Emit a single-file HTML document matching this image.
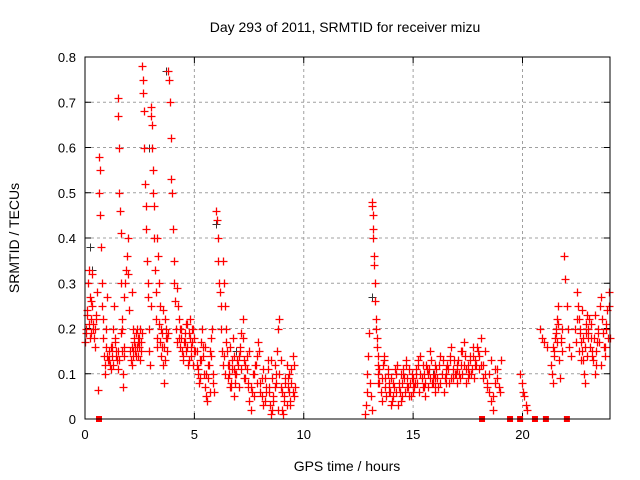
<!DOCTYPE html>
<html><head><meta charset="utf-8"><style>
body{margin:0;background:#fff}
svg{display:block;font-family:"Liberation Sans",sans-serif}
</style></head><body>
<svg id="chart" width="640" height="480">
<text x="345" y="32" font-size="14" text-anchor="middle">Day 293 of 2011, SRMTID for receiver mizu</text>
<text x="347" y="471" font-size="14" text-anchor="middle">GPS time / hours</text>
<text transform="translate(19,238) rotate(-90)" font-size="14" text-anchor="middle">SRMTID / TECUs</text>
<g id="grid"></g>
<g id="axes"></g>
<g id="marks"></g>
<rect x="85" y="57" width="525" height="362" fill="none" stroke="#000" stroke-width="1"/>
</svg>
<script>
const xTicks=[0,5,10,15,20];
const yTicks=[0,0.1,0.2,0.3,0.4,0.5,0.6,0.7,0.8];
const yTickLabels=["0","0.1","0.2","0.3","0.4","0.5","0.6","0.7","0.8"];
// red series in segments (start hour, end hour, values sampled across segment)
const segStart=[0.0,0.6,1.0,1.5,1.8,2.2,2.6,3.0,3.3,3.8,4.2,5.0,5.5,6.0,6.3,6.8,7.5,8.5,9.0,12.8,13.1,13.4,14.0,15.0,16.0,17.0,18.0,19.9,20.8,21.3,21.9,22.5,23.0];
const segEnd=[0.55,1.0,1.5,1.8,2.2,2.6,3.0,3.3,3.8,4.2,5.0,5.5,5.9,6.3,6.8,7.5,8.5,9.0,9.6,13.1,13.4,14.0,15.0,16.0,17.0,18.0,19.0,20.2,21.1,21.8,22.2,23.0,24.0];
const segValues=[
[0.17,0.2,0.24,0.3,0.33,0.27,0.22,0.19,0.25,0.21,0.18,0.2,0.23,0.28],
[0.065,0.58,0.5,0.55,0.45,0.38,0.3,0.25,0.22,0.18,0.14,0.12,0.1,0.16,0.2,0.27],
[0.14,0.13,0.15,0.12,0.11,0.16,0.2,0.25,0.18,0.14,0.13,0.15],
[0.71,0.67,0.6,0.5,0.46,0.41,0.3,0.2,0.15,0.1,0.07,0.14,0.16],
[0.27,0.3,0.33,0.36,0.4,0.32,0.24,0.15,0.13,0.12,0.28,0.2],
[0.15,0.17,0.18,0.16,0.19,0.14,0.2,0.17,0.16,0.18,0.13,0.15,0.17,0.19],
[0.78,0.75,0.72,0.68,0.6,0.52,0.47,0.42,0.35,0.3,0.27,0.2,0.15,0.12,0.25],
[0.69,0.67,0.65,0.6,0.55,0.5,0.47,0.4,0.33,0.28,0.22,0.18,0.16],
[0.4,0.36,0.3,0.25,0.2,0.16,0.12,0.08,0.22,0.18,0.15,0.19],
[0.77,0.75,0.7,0.62,0.53,0.5,0.42,0.35,0.3,0.26,0.2,0.17],
[0.29,0.25,0.22,0.2,0.18,0.15,0.13,0.17,0.21,0.16,0.12,0.19,0.22,0.14,0.17,0.2,0.15],
[0.18,0.15,0.12,0.1,0.08,0.13,0.17,0.2,0.14,0.1,0.16],
[0.07,0.05,0.04,0.09,0.12,0.15,0.18,0.2,0.1,0.06],
[0.46,0.44,0.4,0.35,0.3,0.28,0.25,0.2,0.15,0.12],
[0.35,0.3,0.25,0.2,0.15,0.12,0.1,0.07,0.08,0.13,0.18,0.11],
[0.05,0.08,0.1,0.12,0.14,0.16,0.19,0.22,0.13,0.09,0.11,0.07,0.15],
[0.04,0.02,0.06,0.1,0.12,0.14,0.17,0.08,0.05,0.03,0.09,0.06,0.11,0.07,0.13],
[0.01,0.02,0.04,0.07,0.1,0.15,0.2,0.22,0.13,0.06],
[0.02,0.01,0.04,0.08,0.12,0.09,0.06,0.03,0.11,0.14,0.05,0.07],
[0.01,0.03,0.06,0.1,0.14,0.19,0.08,0.05,0.02],
[0.48,0.47,0.45,0.42,0.4,0.36,0.34,0.3,0.26,0.22,0.2,0.18,0.16,0.14,0.12],
[0.1,0.08,0.06,0.04,0.12,0.14,0.09,0.05,0.11,0.07,0.06,0.09],
[0.03,0.05,0.07,0.1,0.12,0.08,0.06,0.04,0.11,0.09,0.13,0.07,0.05,0.08,0.1,0.06],
[0.06,0.08,0.1,0.12,0.14,0.09,0.07,0.05,0.11,0.1,0.15,0.08,0.09,0.12],
[0.07,0.09,0.12,0.14,0.1,0.06,0.08,0.11,0.13,0.16,0.09,0.1,0.12],
[0.08,0.1,0.12,0.15,0.17,0.11,0.09,0.13,0.1,0.14,0.12,0.16,0.11],
[0.14,0.18,0.12,0.1,0.08,0.06,0.04,0.02,0.11,0.09,0.07,0.13],
[0.1,0.08,0.06,0.05,0.03,0.02],
[0.2,0.18,0.17,0.16],
[0.12,0.1,0.08,0.15,0.18,0.2,0.22,0.25,0.13,0.09,0.17,0.2],
[0.36,0.31,0.25,0.2,0.16,0.14],
[0.28,0.25,0.22,0.2,0.17,0.15,0.13,0.1,0.08,0.19,0.23,0.18],
[0.2,0.22,0.18,0.15,0.13,0.1,0.12,0.17,0.19,0.25,0.27,0.22,0.16,0.14,0.2,0.24,0.28,0.18]
];
// additional readings from the dense regions
const extraStart=[0.05,1.1,2.15,3.4,4.3,5.1,6.35,6.9,7.6,8.4,9.1,13.4,13.9,14.5,15.0,15.5,16.0,16.5,17.0,17.5,18.1,21.4,22.4,23.0];
const extraEnd=[0.5,1.7,2.55,3.75,4.95,5.85,6.85,7.45,8.35,8.95,9.55,13.9,14.5,15.0,15.5,16.0,16.5,17.0,17.5,17.95,18.95,21.8,22.95,23.95];
const extraValues=[
[0.19,0.23,0.21,0.18,0.26,0.32,0.2,0.16,0.22],
[0.13,0.16,0.14,0.12,0.17,0.15,0.11,0.13,0.19,0.22],
[0.16,0.14,0.18,0.17,0.15,0.19,0.16,0.14,0.18,0.17,0.2,0.15],
[0.21,0.17,0.14,0.19,0.24,0.16,0.13,0.2,0.18],
[0.18,0.16,0.2,0.14,0.17,0.19,0.15,0.21,0.13,0.18,0.16,0.2,0.12],
[0.15,0.11,0.09,0.13,0.16,0.07,0.1,0.12,0.06,0.14,0.08],
[0.14,0.1,0.17,0.09,0.12,0.16,0.07,0.11,0.14,0.1],
[0.1,0.13,0.07,0.15,0.11,0.18,0.09,0.12,0.14,0.08],
[0.07,0.1,0.05,0.12,0.08,0.15,0.06,0.09,0.11,0.04,0.07,0.13],
[0.06,0.03,0.09,0.05,0.12,0.08,0.02,0.1,0.07],
[0.05,0.09,0.03,0.07,0.1,0.04,0.08,0.06,0.12],
[0.08,0.11,0.06,0.09,0.13,0.07,0.05,0.1,0.08],
[0.06,0.09,0.04,0.08,0.11,0.06,0.03,0.07,0.1,0.05],
[0.08,0.1,0.06,0.12,0.09,0.07,0.11,0.05,0.09,0.08],
[0.09,0.07,0.11,0.08,0.13,0.06,0.1,0.09,0.12,0.07],
[0.1,0.08,0.12,0.07,0.11,0.09,0.13,0.08,0.1,0.06],
[0.09,0.11,0.07,0.12,0.08,0.1,0.13,0.09,0.11],
[0.1,0.12,0.08,0.14,0.09,0.11,0.13,0.1,0.12],
[0.11,0.13,0.09,0.15,0.1,0.12,0.14,0.08,0.11],
[0.12,0.1,0.14,0.11,0.16,0.09,0.13,0.12,0.15],
[0.12,0.09,0.15,0.07,0.1,0.13,0.05,0.08,0.11,0.06],
[0.16,0.14,0.19,0.17,0.21,0.13,0.18,0.15],
[0.2,0.17,0.22,0.15,0.19,0.13,0.24,0.18,0.16,0.21,0.14],
[0.19,0.16,0.21,0.14,0.18,0.23,0.15,0.2,0.17,0.12,0.22,0.19,0.16,0.21,0.18,0.25]
];
const grayHours=[0.3,0.4,3.0,3.8,6.1,13.2,22.6,23.2,7.0,16.0];
const graySrmtid=[0.38,0.33,0.6,0.77,0.43,0.27,0.28,0.21,0.15,0.1];
const gapHours=[0.64,18.15,19.43,19.89,20.57,21.07,22.03];

const NS='http://www.w3.org/2000/svg';
const X0=85,X1=610,Y0=419,Y1=57;
function xs(h){return X0+(X1-X0)*h/24;}
function ys(v){return Y0-(Y0-Y1)*v/0.8;}
const grid=document.getElementById('grid'),axes=document.getElementById('axes'),marks=document.getElementById('marks');
function mk(tag,attrs,parent){const e=document.createElementNS(NS,tag);for(const k in attrs)e.setAttribute(k,attrs[k]);parent.appendChild(e);return e;}
xTicks.forEach(t=>{
  const x=xs(t);
  if(t>0){const g=mk('line',{x1:x,x2:x,y1:Y1,y2:Y0,stroke:'#a0a0a0','stroke-dasharray':'3,3'},grid);
  
  }
  mk('line',{x1:x,x2:x,y1:Y0,y2:Y0-6,stroke:'#000'},axes);
  mk('line',{x1:x,x2:x,y1:Y1,y2:Y1+6,stroke:'#000'},axes);
  const l=mk('text',{x:x,y:Y0+20,'font-size':13,'text-anchor':'middle'},axes);l.textContent=t;
  
  
});
yTicks.forEach((t,i)=>{
  const y=ys(t);
  if(i>0&&i<yTicks.length-1){const g=mk('line',{x1:X0,x2:X1,y1:y,y2:y,stroke:'#a0a0a0','stroke-dasharray':'3,3'},grid);
  
  }
  mk('line',{x1:X0,x2:X0+6,y1:y,y2:y,stroke:'#000'},axes);
  mk('line',{x1:X1,x2:X1-6,y1:y,y2:y,stroke:'#000'},axes);
  const l=mk('text',{x:X0-9,y:y+5,'font-size':13,'text-anchor':'end'},axes);l.textContent=yTickLabels[i];
  
  
});
function cross(x,y){return 'M'+(x-4)+' '+y+'h8M'+x+' '+(y-4)+'v8';}
let gd='';
grayHours.forEach((h,i)=>{gd+=cross(Math.round(xs(h))-1.5,Math.round(ys(graySrmtid[i]))+.5);});
const gp=mk('path',{d:gd,stroke:'#333',fill:'none','stroke-width':1},marks);


let rd='';
function addSegs(st,en,vs){
  vs.forEach((vals,s)=>{
    const n=vals.length;
    vals.forEach((v,j)=>{const h=st[s]+(en[s]-st[s])*(n>1?j/(n-1):0);rd+=cross(Math.round(xs(h))+.5,Math.round(ys(v))+.5);});
  });
}
addSegs(segStart,segEnd,segValues);
addSegs(extraStart,extraEnd,extraValues);
const rp=mk('path',{d:rd,stroke:'#ff0000',fill:'none','stroke-width':1.3},marks);


gapHours.forEach(h=>{
  const r=mk('rect',{x:xs(h)-3,y:Y0-3,width:6,height:6,fill:'#ff0000'},marks);
  
  
});
</script>
</body></html>
